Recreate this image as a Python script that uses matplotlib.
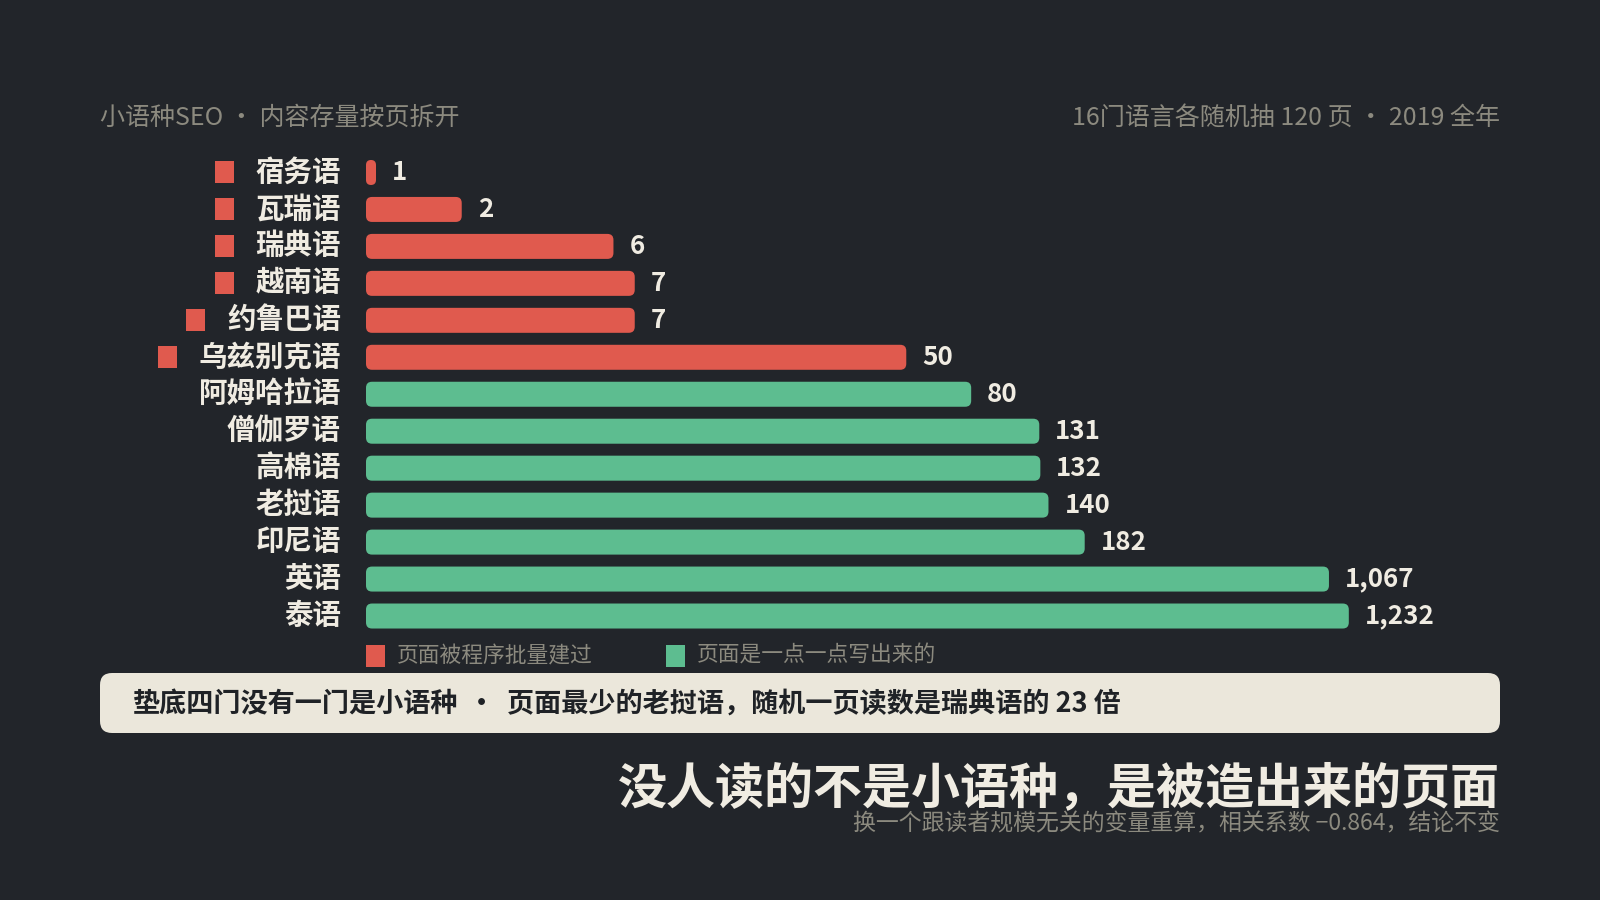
import matplotlib
matplotlib.use('Agg')
import matplotlib.pyplot as plt
from matplotlib.patches import FancyBboxPatch, Rectangle
from matplotlib.transforms import IdentityTransform

plt.rcParams['font.family'] = ['Noto Sans CJK SC', 'DejaVu Sans']

# data
languages = ['宿务语', '瓦瑞语', '瑞典语', '越南语', '约鲁巴语', '乌兹别克语',
             '阿姆哈拉语', '僧伽罗语', '高棉语', '老挝语', '印尼语', '英语', '泰语']
reads = [1, 2, 6, 7, 7, 50, 80, 131, 132, 140, 182, 1067, 1232]
bulk_built = [True, True, True, True, True, True,
              False, False, False, False, False, False, False]
legend_labels = ['页面被程序批量建过', '页面是一点一点写出来的']

header_left = '小语种SEO · 内容存量按页拆开'
header_right = '16门语言各随机抽 120 页 · 2019 全年'
note_a = '垫底四门没有一门是小语种'
note_b = '页面最少的老挝语，随机一页读数是瑞典语的 23 倍'
title = '没人读的不是小语种，是被造出来的页面'
subtitle = '换一个跟读者规模无关的变量重算，相关系数 −0.864，结论不变'

# colours
BG = '#22252a'
RED = '#e05a4e'
GREEN = '#5dbd90'
TEXT = '#f0ece2'
MUTED = '#8c8a7f'
BOX = '#ebe7db'
DARK = '#1f2226'

W, H = 1600, 900
fig = plt.figure(figsize=(16, 9), dpi=100, facecolor=BG)
ident = IdentityTransform()


def fy(y_top):
    # pixel row counted from the top -> figure pixels from the bottom
    return H - y_top


# bar area: log scale, left edge at 366px, ~318px per decade
ax = fig.add_axes([366 / W, 1 - 634.5 / H, 1134 / W, 480.5 / H])
ax.set_xscale('log')
ax.set_xlim(1, 10 ** (1134 / 318))
ax.set_ylim(len(reads) - 0.5, -0.5)
ax.axis('off')

bar_h = 25
cat_texts = []
for i, (name, v, bulk) in enumerate(zip(languages, reads, bulk_built)):
    x0, yc = ax.transData.transform((1, i))
    x1, _ = ax.transData.transform((v, i))
    w = max(x1 - x0, 10)
    r = min(6, w / 2)
    color = RED if bulk else GREEN
    fig.add_artist(FancyBboxPatch((x0, yc - bar_h / 2), w, bar_h,
                                  boxstyle=f'round,pad=0,rounding_size={r}',
                                  facecolor=color, edgecolor='none',
                                  transform=ident))
    fig.text(x0 + w + 16, yc, f'{v:,}', transform=ident,
             ha='left', va='center', fontsize=18.7, weight='bold', color=TEXT)
    t = fig.text(x0 - 25, yc, name, transform=ident,
                 ha='right', va='center', fontsize=20.5, weight='bold', color=TEXT)
    cat_texts.append((t, yc, bulk))

fig.canvas.draw()
renderer = fig.canvas.get_renderer()
for t, yc, bulk in cat_texts:
    if bulk:
        bb = t.get_window_extent(renderer)
        fig.add_artist(Rectangle((bb.x0 - 22 - 19, yc - 11), 19, 22,
                                 facecolor=RED, edgecolor='none', transform=ident))

# legend
for lx, color, label in zip([366, 666], [RED, GREEN], legend_labels):
    fig.add_artist(Rectangle((lx, fy(667)), 19, 22, facecolor=color,
                             edgecolor='none', transform=ident))
    fig.text(lx + 31, fy(656), label, transform=ident, ha='left', va='center',
             fontsize=15.7, color=MUTED)

# headers
fig.text(100, fy(118), header_left, transform=ident, ha='left', va='center',
         fontsize=18, color=MUTED)
fig.text(1500, fy(118), header_right, transform=ident, ha='right', va='center',
         fontsize=18, color=MUTED)

# callout box
fig.add_artist(FancyBboxPatch((100, fy(733)), 1400, 60,
                              boxstyle='round,pad=0,rounding_size=12',
                              facecolor=BOX, edgecolor='none', transform=ident))
fig.text(133, fy(704), note_a, transform=ident, ha='left', va='center',
         fontsize=19.5, weight='bold', color=DARK)
fig.text(481, fy(704), '·', transform=ident, ha='center', va='center',
         fontsize=19.5, weight='bold', color=DARK)
fig.text(507, fy(704), note_b, transform=ident, ha='left', va='center',
         fontsize=19.5, weight='bold', color=DARK)

# bottom title
fig.text(1500, fy(789), title, transform=ident, ha='right', va='center',
         fontsize=35.3, weight='bold', color=TEXT)
fig.text(1500, fy(824), subtitle, transform=ident, ha='right', va='center',
         fontsize=16.5, color=MUTED)

fig.savefig('out.png', dpi=100, facecolor=BG)
